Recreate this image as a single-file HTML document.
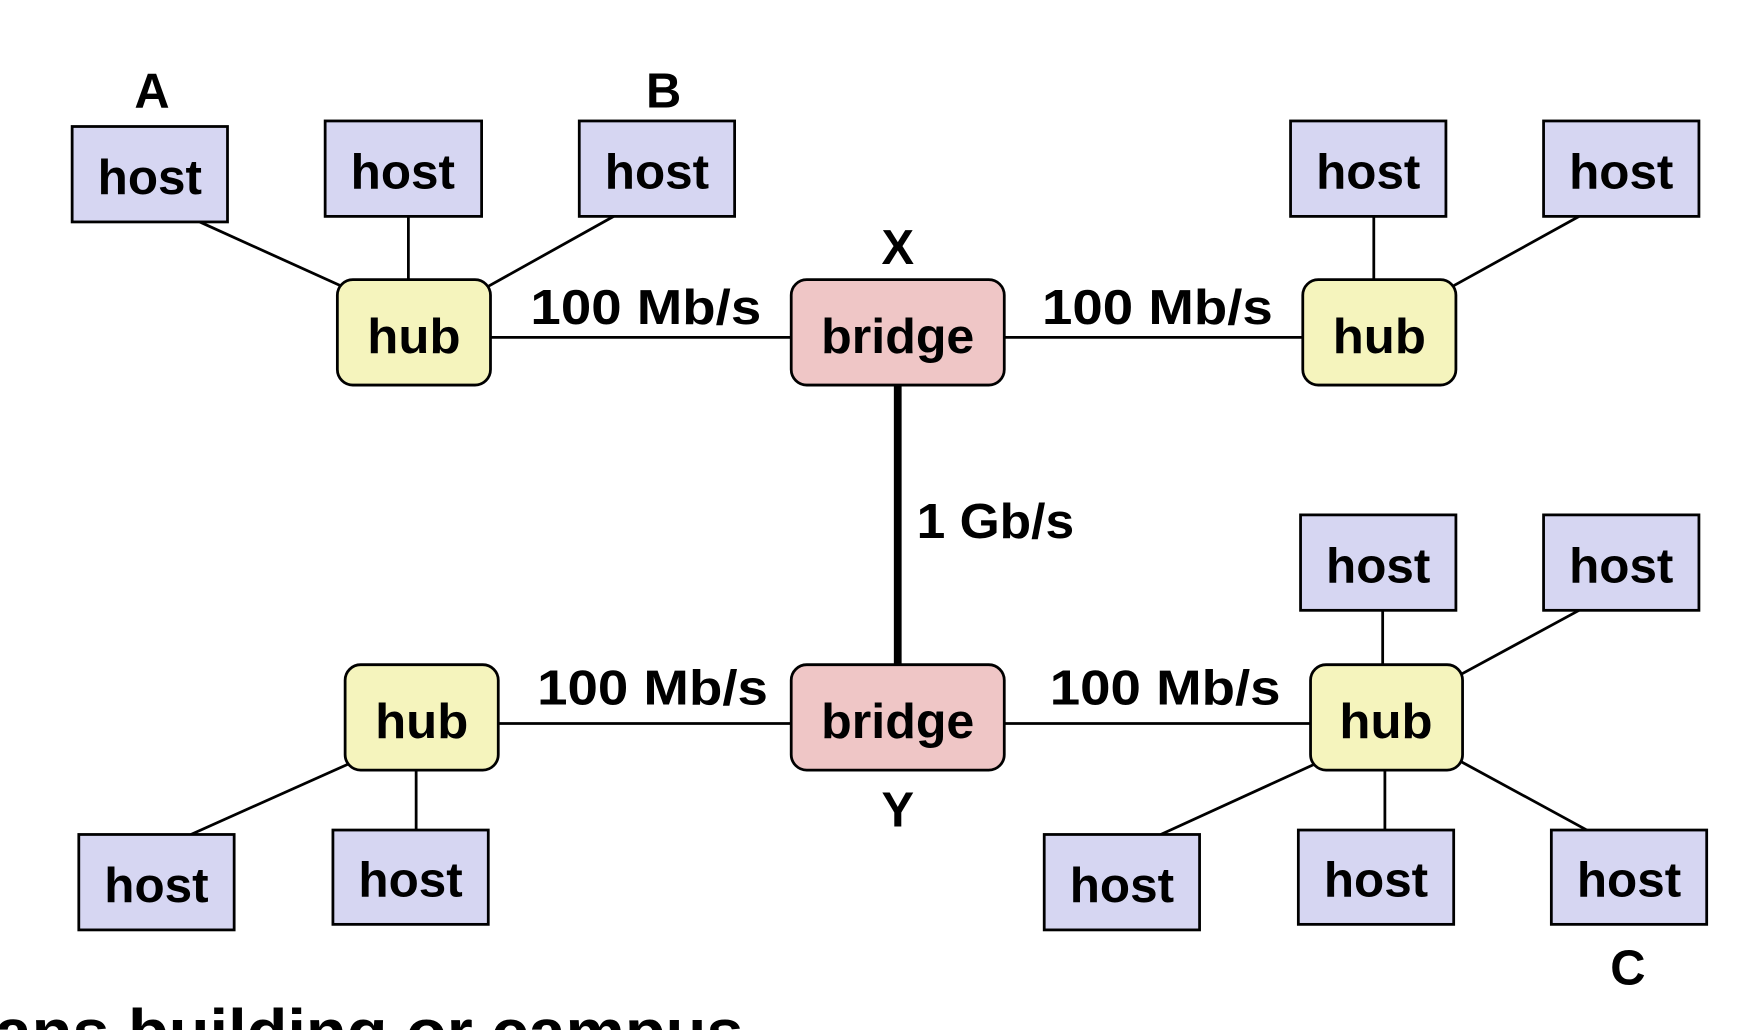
<!DOCTYPE html>
<html><head><meta charset="utf-8"><style>html,body{margin:0;padding:0;background:#fff;overflow:hidden;width:1740px;height:1030px}svg{display:block}</style></head>
<body>
<svg width="1740" height="1030" viewBox="0 0 1568 928.2" xmlns="http://www.w3.org/2000/svg" font-family="Liberation Sans, sans-serif" font-weight="bold">
<g stroke="#000" stroke-width="2.5">
<line x1="180" y1="200" x2="308" y2="258"/>
<line x1="368" y1="195" x2="368" y2="252"/>
<line x1="553" y1="195" x2="440" y2="258"/>
<line x1="442" y1="304" x2="713" y2="304"/>
<line x1="905" y1="304" x2="1174" y2="304"/>
<line x1="1238" y1="195" x2="1238" y2="252"/>
<line x1="1423" y1="195" x2="1309" y2="258"/>
<line x1="449" y1="652" x2="713" y2="652"/>
<line x1="905" y1="652" x2="1181" y2="652"/>
<line x1="315" y1="688" x2="172" y2="752"/>
<line x1="375" y1="694" x2="375" y2="748"/>
<line x1="1246" y1="550" x2="1246" y2="599"/>
<line x1="1423" y1="550" x2="1316" y2="608"/>
<line x1="1186" y1="688" x2="1046" y2="752"/>
<line x1="1248" y1="694" x2="1248" y2="748"/>
<line x1="1316" y1="686" x2="1430" y2="748"/>
<line x1="809" y1="347" x2="809" y2="599" stroke-width="7"/>
</g>
<g fill="#d6d6f2" stroke="#000" stroke-width="2.5">
<rect x="65" y="114" width="140" height="86"/>
<rect x="293" y="109" width="141" height="86"/>
<rect x="522" y="109" width="140" height="86"/>
<rect x="1163" y="109" width="140" height="86"/>
<rect x="1391" y="109" width="140" height="86"/>
<rect x="1172" y="464" width="140" height="86"/>
<rect x="1391" y="464" width="140" height="86"/>
<rect x="71" y="752" width="140" height="86"/>
<rect x="300" y="748" width="140" height="85"/>
<rect x="941" y="752" width="140" height="86"/>
<rect x="1170" y="748" width="140" height="85"/>
<rect x="1398" y="748" width="140" height="85"/>
</g>
<g fill="#f5f4bd" stroke="#000" stroke-width="2.5">
<rect x="304" y="252" width="138" height="95" rx="14"/>
<rect x="1174" y="252" width="138" height="95" rx="14"/>
<rect x="311" y="599" width="138" height="95" rx="14"/>
<rect x="1181" y="599" width="137" height="95" rx="14"/>
</g>
<g fill="#efc6c6" stroke="#000" stroke-width="2.5">
<rect x="713" y="252" width="192" height="95" rx="14"/>
<rect x="713" y="599" width="192" height="95" rx="14"/>
</g>
<g font-size="44" text-anchor="middle" fill="#000">
<text x="135" y="175" textLength="94" lengthAdjust="spacingAndGlyphs">host</text>
<text x="363" y="170" textLength="94" lengthAdjust="spacingAndGlyphs">host</text>
<text x="592" y="170" textLength="94" lengthAdjust="spacingAndGlyphs">host</text>
<text x="1233" y="170" textLength="94" lengthAdjust="spacingAndGlyphs">host</text>
<text x="1461" y="170" textLength="94" lengthAdjust="spacingAndGlyphs">host</text>
<text x="1242" y="525" textLength="94" lengthAdjust="spacingAndGlyphs">host</text>
<text x="1461" y="525" textLength="94" lengthAdjust="spacingAndGlyphs">host</text>
<text x="141" y="813" textLength="94" lengthAdjust="spacingAndGlyphs">host</text>
<text x="370" y="808" textLength="94" lengthAdjust="spacingAndGlyphs">host</text>
<text x="1011" y="813" textLength="94" lengthAdjust="spacingAndGlyphs">host</text>
<text x="1240" y="808" textLength="94" lengthAdjust="spacingAndGlyphs">host</text>
<text x="1468" y="808" textLength="94" lengthAdjust="spacingAndGlyphs">host</text>
<text x="373" y="318" textLength="84" lengthAdjust="spacingAndGlyphs">hub</text>
<text x="1243" y="318" textLength="84" lengthAdjust="spacingAndGlyphs">hub</text>
<text x="380" y="665" textLength="84" lengthAdjust="spacingAndGlyphs">hub</text>
<text x="1249" y="665" textLength="84" lengthAdjust="spacingAndGlyphs">hub</text>
<text x="809" y="318" textLength="138" lengthAdjust="spacingAndGlyphs">bridge</text>
<text x="809" y="665" textLength="138" lengthAdjust="spacingAndGlyphs">bridge</text>
<text x="582" y="292" textLength="208" lengthAdjust="spacingAndGlyphs">100 Mb/s</text>
<text x="1043" y="292" textLength="208" lengthAdjust="spacingAndGlyphs">100 Mb/s</text>
<text x="588" y="635" textLength="208" lengthAdjust="spacingAndGlyphs">100 Mb/s</text>
<text x="1050" y="635" textLength="208" lengthAdjust="spacingAndGlyphs">100 Mb/s</text>
<text x="897" y="485" textLength="142" lengthAdjust="spacingAndGlyphs">1 Gb/s</text>
<text x="137" y="97">A</text>
<text x="598" y="97">B</text>
<text x="809" y="238">X</text>
<text x="809" y="745">Y</text>
<text x="1467" y="887">C</text>
</g>
<text x="-5" y="950" font-size="58" fill="#000" textLength="675" lengthAdjust="spacingAndGlyphs">ans building or campus</text>
</svg>
</body></html>
